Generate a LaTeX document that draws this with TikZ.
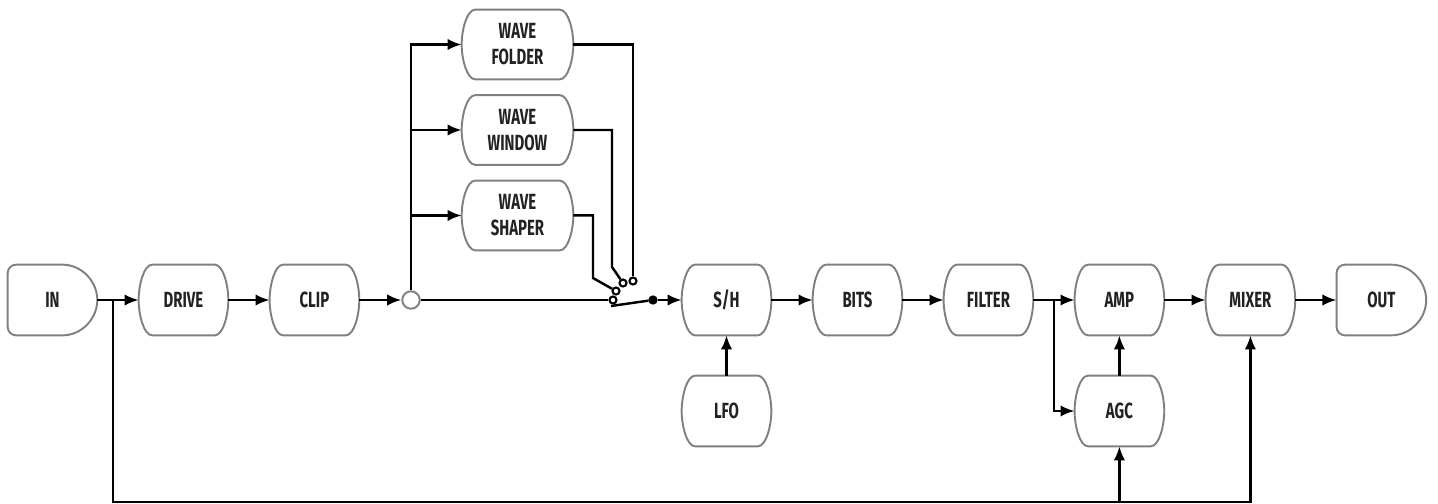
\documentclass[tikz,border=0pt]{standalone}
\usepackage{fontspec}
\setmainfont{Fira Sans}[FakeStretch=0.68]
\usetikzlibrary{arrows.meta}
\definecolor{boxgray}{RGB}{128,128,128}
\definecolor{ink}{RGB}{34,34,34}

\begin{document}
\begin{tikzpicture}[x=0.02cm,y=-0.02cm,node distance=2.62cm]
        \tikzstyle{block} = [rectangle, minimum width=1.78cm, minimum height=1.4cm, inner sep=0pt, text=ink, font=\fontsize{12.5}{14.8}\selectfont\bfseries, align=center]
        \tikzstyle{wave} = [block, minimum width=2.22cm, minimum height=1.38cm]
        \tikzstyle{outline} = [draw=boxgray, line width=1.1pt]
        \tikzstyle{arrow} = [line width=1.4pt, -{Latex[length=8pt,width=6.5pt]}]
        \tikzstyle{wire} = [line width=1.4pt]
        \tikzstyle{contact} = [circle, draw, fill=white, line width=1.2pt, inner sep=0pt, minimum size=4pt]

        \useasboundingbox (0,0) rectangle (1438,504);

        \node (in) [block] at (52.5,300) {IN};
        \node (drive) [block, right of=in] {DRIVE};
        \node (clip) [block, right of=drive] {CLIP};
        \node (sh) [block] at (726.5,300) {S/H};
        \node (bits) [block, right of=sh] {BITS};
        \node (filter) [block, right of=bits] {FILTER};
        \node (amp) [block, right of=filter] {AMP};
        \node (mixer) [block, right of=amp] {MIXER};
        \node (out) [block, right of=mixer] {OUT};
        \node (lfo) [block, below of=sh, node distance=2.22cm] {LFO};
        \node (agc) [block, below of=amp, node distance=2.22cm] {AGC};

        \node (folder) [wave] at (517.5,44.5) {WAVE\\FOLDER};
        \node (window) [wave, below of=folder, node distance=1.71cm] {WAVE\\WINDOW};
        \node (shaper) [wave, below of=window, node distance=1.71cm] {WAVE\\SHAPER};

        % box outlines: flat top and bottom, bulging sides
        \foreach \n in {drive,clip,sh,bits,filter,amp,mixer,lfo,agc,folder,window,shaper}
            \draw [outline] ([xshift=0.27cm]\n.north west) -- ([xshift=-0.27cm]\n.north east)
                .. controls ([xshift=-0.1cm]\n.north east) and ([yshift=-0.42cm]\n.north east) .. (\n.east)
                .. controls ([yshift=0.42cm]\n.south east) and ([xshift=-0.1cm]\n.south east) .. ([xshift=-0.27cm]\n.south east)
                -- ([xshift=0.27cm]\n.south west)
                .. controls ([xshift=0.1cm]\n.south west) and ([yshift=0.42cm]\n.south west) .. (\n.west)
                .. controls ([yshift=-0.42cm]\n.north west) and ([xshift=0.1cm]\n.north west) .. cycle;
        % in and out: rounded left, round right
        \foreach \n in {in,out}
            \draw [outline] (\n.north) -- ([xshift=-0.7cm]\n.north east)
                .. controls ([xshift=-0.3cm]\n.north east) and ([yshift=0.36cm]\n.east) .. (\n.east)
                .. controls ([yshift=-0.36cm]\n.east) and ([xshift=-0.3cm]\n.south east) .. ([xshift=-0.7cm]\n.south east)
                -- (\n.south) [rounded corners=0.17cm] -- (\n.south west) -- (\n.north west) -- cycle;

        \node (split) [circle, draw=boxgray, fill=white, line width=1.1pt, minimum size=0.35cm] at (411,300) {};
        \node (c0) [contact] at (613,300) {};
        \node (c1) [contact] at (616,291) {};
        \node (c2) [contact] at (623,283) {};
        \node (c3) [contact] at (633,281) {};
        \node (pivot) [contact, fill=black] at (653,300) {};

        \coordinate (tap) at (113,300);
        \coordinate (low) at (113,502);
        \coordinate (ftap) at (1054,300);
        \coordinate (lever) at (611,306);
        \coordinate (bendw) at (612,267);
        \coordinate (bends) at (593,278);

        \draw [arrow] (in) -- (drive);
        \draw [arrow] (drive) -- (clip);
        \draw [arrow] (clip) -- (split);
        \draw [arrow] (split.north) |- (folder.west);
        \draw [arrow] (split.north |- window.west) -- (window.west);
        \draw [arrow] (split.north |- shaper.west) -- (shaper.west);
        \draw [wire] (folder.east) -| (c3.north);
        \draw [wire] (window.east) -| (bendw) -- (c2);
        \draw [wire] (shaper.east) -| (bends) -- (c1);
        \draw [wire] (split) -- (c0);
        \draw [wire] (pivot) -- (lever);
        \draw [arrow] (pivot) -- (sh);
        \draw [arrow] (sh) -- (bits);
        \draw [arrow] (bits) -- (filter);
        \draw [arrow] (filter) -- (amp);
        \draw [arrow] (ftap) |- (agc.west);
        \draw [arrow] (agc) -- (amp);
        \draw [arrow] (lfo) -- (sh);
        \draw [arrow] (amp) -- (mixer);
        \draw [arrow] (mixer) -- (out);
        \draw [arrow] (tap) -- (low) -| (mixer.south);
        \draw [arrow] (low -| agc.south) -- (agc.south);
\end{tikzpicture}
\end{document}
